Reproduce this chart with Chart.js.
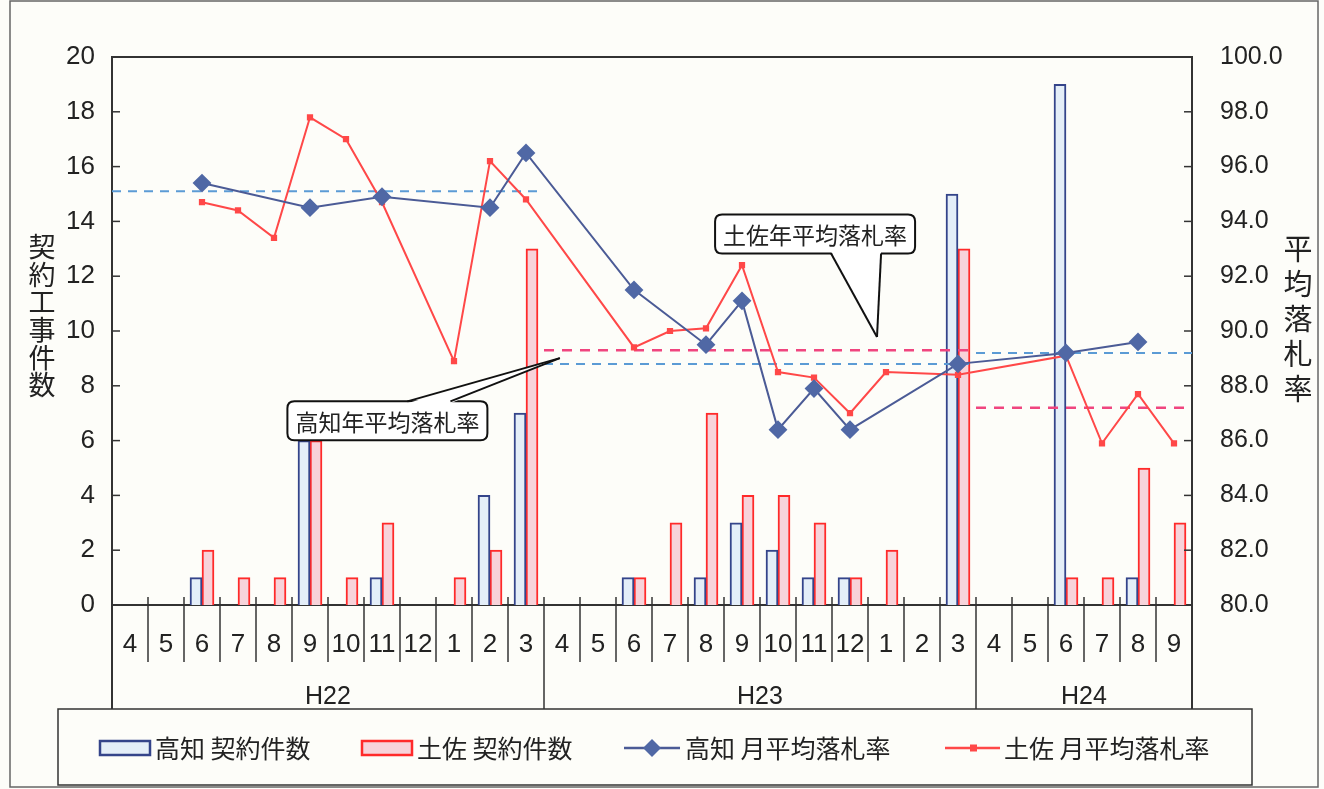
<!DOCTYPE html>
<html>
<head>
<meta charset="utf-8">
<style>
  html, body { margin: 0; padding: 0; background: #fdfdf9; }
  #wrap { width: 1324px; height: 789px; }
</style>
<script src="https://cdn.jsdelivr.net/npm/chart.js@4.4.1/dist/chart.umd.min.js"></script>
</head>
<body>
<div id="wrap"><canvas id="myChart" width="1324" height="789"></canvas></div>
<script>
// months, H22.4 .. H24.9
const months = ['4','5','6','7','8','9','10','11','12','1','2','3',
                '4','5','6','7','8','9','10','11','12','1','2','3',
                '4','5','6','7','8','9'];
const years = ['H22', 'H23', 'H24'];
const yearStart = [0, 12, 24];
const yearEnd = [12, 24, 30];

// contract counts (left axis)
const kochiCount = [0,0,1,0,0,6,0,1,0,0,4,7, 0,0,1,0,1,3,2,1,1,0,0,15, 0,0,19,0,1,0];
const tosaCount  = [0,0,2,1,1,6,1,3,0,1,2,13, 0,0,1,3,7,4,4,3,1,2,0,13, 0,0,1,1,5,3];

// monthly average winning bid rate (right axis)
const kochiRate = [null,null,95.4,null,null,94.5,null,94.9,null,null,94.5,96.5,
                   null,null,91.5,null,89.5,91.1,86.4,87.9,86.4,null,null,88.8,
                   null,null,89.2,null,89.6,null];
const tosaRate  = [null,null,94.7,94.4,93.4,97.8,97.0,94.7,null,88.9,96.2,94.8,
                   null,null,89.4,90.0,90.1,92.4,88.5,88.3,87.0,88.5,null,88.4,
                   null,null,89.1,85.9,87.7,85.9];

// yearly averages
const kochiAvg = [95.1, 88.8, 89.2];
const tosaAvg  = [null, 89.3, 87.2];

const legendLabels = ['高知 契約件数', '土佐 契約件数', '高知 月平均落札率', '土佐 月平均落札率'];

// callouts: center (x in month index, y on rate axis), pointer base offsets (px) and tip
const callouts = [
  { text: '土佐年平均落札率', cx: 19.03, cy: 93.54, base: [16, 66], side: 'bottom', tip: [20.75, 89.78] },
  { text: '高知年平均落札率', cx: 7.15, cy: 86.72, base: [20, 63], side: 'top', tip: [11.94, 89.01] }
];

const numFont = "'Liberation Sans', Arial, sans-serif";
const jpFont = "'Noto Sans CJK JP', sans-serif";
const textColor = '#222';

const kochiBlue = '#34448a';
const tosaRed = '#ff2a2a';
const kochiLine = '#4b5b96';
const kochiAvgColor = '#5b9bd5';
const tosaAvgColor = '#f0457f';

const barW = 12;       // px per bar
const barShift = 1 / 6; // half a bar, in month units (36px per month)

// points on the hidden linear x axis (month index)
function toPoints(vals, shift) {
  return vals.map((v, i) => ({ x: i + (shift || 0), y: v }));
}

function avgSet(vals, color, dash, width) {
  const sets = [];
  vals.forEach((v, k) => {
    if (v === null) return;
    sets.push({
      type: 'line', xAxisID: 'x2', yAxisID: 'y1', order: 2,
      data: [{ x: yearStart[k] - 0.5, y: v }, { x: yearEnd[k] - 0.5, y: v }],
      borderColor: color, borderWidth: width, borderDash: dash,
      pointRadius: 0, fill: false
    });
  });
  return sets;
}

function line(c, x1, y1, x2, y2) {
  c.beginPath(); c.moveTo(x1, y1); c.lineTo(x2, y2); c.stroke();
}

function roundRect(c, x, y, w, h, r) {
  c.beginPath();
  c.moveTo(x + r, y);
  c.lineTo(x + w - r, y); c.quadraticCurveTo(x + w, y, x + w, y + r);
  c.lineTo(x + w, y + h - r); c.quadraticCurveTo(x + w, y + h, x + w - r, y + h);
  c.lineTo(x + r, y + h); c.quadraticCurveTo(x, y + h, x, y + h - r);
  c.lineTo(x, y + r); c.quadraticCurveTo(x, y, x + r, y);
  c.closePath();
}

const decor = {
  id: 'decor',
  beforeDraw(chart) {
    const c = chart.ctx;
    c.save();
    c.fillStyle = '#fdfdf9';
    c.fillRect(0, 0, chart.width, chart.height);
    c.restore();
  },
  afterDraw(chart) {
    const c = chart.ctx, a = chart.chartArea;
    const x2 = chart.scales.x2, yl = chart.scales.y, yr = chart.scales.y1;
    const legTop = 709;
    c.save();

    // outer frame
    c.strokeStyle = '#666'; c.lineWidth = 1.5;
    c.strokeRect(10, 1, 1308, 786);

    // plot frame + axis extensions
    c.strokeStyle = '#333'; c.lineWidth = 2;
    line(c, a.left, a.top, a.right, a.top);
    line(c, a.left, a.bottom, a.left, legTop);
    line(c, a.right, a.bottom, a.right, legTop);

    // inner ticks
    c.lineWidth = 1.5;
    for (let v = 2; v < 20; v += 2) {
      const py = yl.getPixelForValue(v);
      line(c, a.left, py, a.left + 8, py);
      const pr = yr.getPixelForValue(80 + v);
      line(c, a.right - 8, pr, a.right, pr);
    }

    // month separators
    c.lineWidth = 1.5;
    for (let k = 1; k < months.length; k++) {
      const px = x2.getPixelForValue(k - 0.5);
      const end = yearStart.includes(k) ? legTop : a.bottom + 57;
      line(c, px, a.bottom - 8, px, end);
    }

    // year labels
    c.fillStyle = textColor;
    c.font = '25px ' + numFont;
    c.textAlign = 'center'; c.textBaseline = 'middle';
    years.forEach((y, k) => {
      const px = (x2.getPixelForValue(yearStart[k] - 0.5) + x2.getPixelForValue(yearEnd[k] - 0.5)) / 2;
      c.fillText(y, px, a.bottom + 92);
    });

    // axis titles
    c.font = '27px ' + jpFont;
    '契約工事件数'.split('').forEach((ch, k) => c.fillText(ch, 42, 247 + k * 27.6));
    c.font = '29px ' + jpFont;
    '平均落札率'.split('').forEach((ch, k) => c.fillText(ch, 1298, 249 + k * 35));

    // callouts
    callouts.forEach(co => {
      c.font = '23px ' + jpFont;
      const w = c.measureText(co.text).width + 16, h = 39;
      const cx = x2.getPixelForValue(co.cx), cy = yr.getPixelForValue(co.cy);
      const bx = cx - w / 2, by = cy - h / 2;
      c.fillStyle = '#fff'; c.strokeStyle = '#111'; c.lineWidth = 2;
      roundRect(c, bx, by, w, h, 7);
      c.fill(); c.stroke();
      const edge = co.side === 'bottom' ? by + h : by;
      const inset = co.side === 'bottom' ? -2 : 2;
      const tx = x2.getPixelForValue(co.tip[0]), ty = yr.getPixelForValue(co.tip[1]);
      const b1 = cx + co.base[0], b2 = cx + co.base[1];
      c.beginPath();
      c.moveTo(b1, edge + inset); c.lineTo(tx, ty); c.lineTo(b2, edge + inset); c.closePath();
      c.fill();
      line(c, b1, edge, tx, ty);
      line(c, b2, edge, tx, ty);
      c.fillStyle = textColor;
      c.textAlign = 'center'; c.textBaseline = 'middle';
      c.fillText(co.text, cx, cy + 1);
    });

    // legend
    c.strokeStyle = '#333'; c.lineWidth = 1.5;
    c.fillStyle = '#fdfdf9';
    c.fillRect(58, legTop, 1194, 76);
    c.strokeRect(58, legTop, 1194, 76);
    const ly = 748;
    c.font = '25px ' + jpFont;
    c.textAlign = 'left'; c.textBaseline = 'middle';
    // bars
    [[100, '#e4eef8', kochiBlue, legendLabels[0], 155], [362, '#f7d3da', tosaRed, legendLabels[1], 417]].forEach(it => {
      c.fillStyle = it[1]; c.strokeStyle = it[2]; c.lineWidth = 2.5;
      c.fillRect(it[0], ly - 7, 50, 14); c.strokeRect(it[0], ly - 7, 50, 14);
      c.fillStyle = textColor; c.fillText(it[3], it[4], ly);
    });
    // lines
    c.strokeStyle = kochiLine; c.lineWidth = 2.5;
    line(c, 624, ly, 680, ly);
    c.fillStyle = '#5068a5';
    c.beginPath(); c.moveTo(652, ly - 9); c.lineTo(661, ly); c.lineTo(652, ly + 9); c.lineTo(643, ly); c.closePath(); c.fill();
    c.fillStyle = textColor; c.fillText(legendLabels[2], 685, ly);
    c.strokeStyle = '#ff4848'; c.lineWidth = 2.5;
    line(c, 945, ly, 1000, ly);
    c.fillStyle = '#ff4848'; c.fillRect(970, ly - 3.5, 7, 7);
    c.fillStyle = textColor; c.fillText(legendLabels[3], 1004, ly);

    c.restore();
  }
};

const ctx = document.getElementById('myChart').getContext('2d');
const chart = new Chart(ctx, {
  type: 'bar',
  data: {
    labels: months,
    datasets: [
      {
        label: legendLabels[0], xAxisID: 'x2', yAxisID: 'y', order: 3,
        data: toPoints(kochiCount.map(v => v === 0 ? null : v), -barShift),
        backgroundColor: '#e4eef8', borderColor: kochiBlue, borderWidth: 2,
        grouped: false, barThickness: barW
      },
      {
        label: legendLabels[1], xAxisID: 'x2', yAxisID: 'y', order: 3,
        data: toPoints(tosaCount.map(v => v === 0 ? null : v), barShift),
        backgroundColor: '#f7d3da', borderColor: tosaRed, borderWidth: 2,
        grouped: false, barThickness: barW
      },
      {
        type: 'line', label: legendLabels[2], xAxisID: 'x2', yAxisID: 'y1', order: 1,
        data: toPoints(kochiRate), spanGaps: true,
        borderColor: kochiLine, borderWidth: 2, tension: 0,
        pointStyle: 'rectRot', pointRadius: 8,
        pointBackgroundColor: '#5068a5', pointBorderColor: '#5068a5'
      },
      {
        type: 'line', label: legendLabels[3], xAxisID: 'x2', yAxisID: 'y1', order: 1,
        data: toPoints(tosaRate), spanGaps: true,
        borderColor: '#ff4848', borderWidth: 2, tension: 0,
        pointStyle: 'rect', pointRadius: 3,
        pointBackgroundColor: '#ff4848', pointBorderColor: '#ff4848'
      },
      ...avgSet(kochiAvg, kochiAvgColor, [9, 7], 2),
      ...avgSet(tosaAvg, tosaAvgColor, [10, 8], 2.5)
    ]
  },
  options: {
    responsive: false,
    animation: false,
    devicePixelRatio: 1,
    layout: { padding: { top: 57, left: 0, right: 0, bottom: 0 } },
    plugins: { legend: { display: false }, tooltip: { enabled: false } },
    scales: {
      x: {
        offset: true,
        grid: { display: false, drawTicks: false },
        border: { display: true, color: '#333', width: 2 },
        ticks: { font: { size: 26, family: numFont }, color: textColor, padding: 24, maxRotation: 0, autoSkip: false },
        afterFit: s => { s.height = 184; }
      },
      x2: { type: 'linear', display: false, offset: false, min: -0.5, max: 29.5, grid: { offset: false } },
      y: {
        position: 'left', min: 0, max: 20,
        grid: { display: false, drawTicks: false },
        border: { display: true, color: '#333', width: 2 },
        ticks: { stepSize: 2, font: { size: 26, family: numFont }, color: textColor, padding: 17 },
        afterFit: s => { s.width = 112; }
      },
      y1: {
        position: 'right', min: 80, max: 100,
        grid: { display: false, drawTicks: false },
        border: { display: true, color: '#333', width: 2 },
        ticks: { stepSize: 2, font: { size: 25, family: numFont }, color: textColor, padding: 28,
                 callback: v => Number(v).toFixed(1) },
        afterFit: s => { s.width = 132; }
      }
    }
  },
  plugins: [decor]
});
</script>
</body>
</html>
